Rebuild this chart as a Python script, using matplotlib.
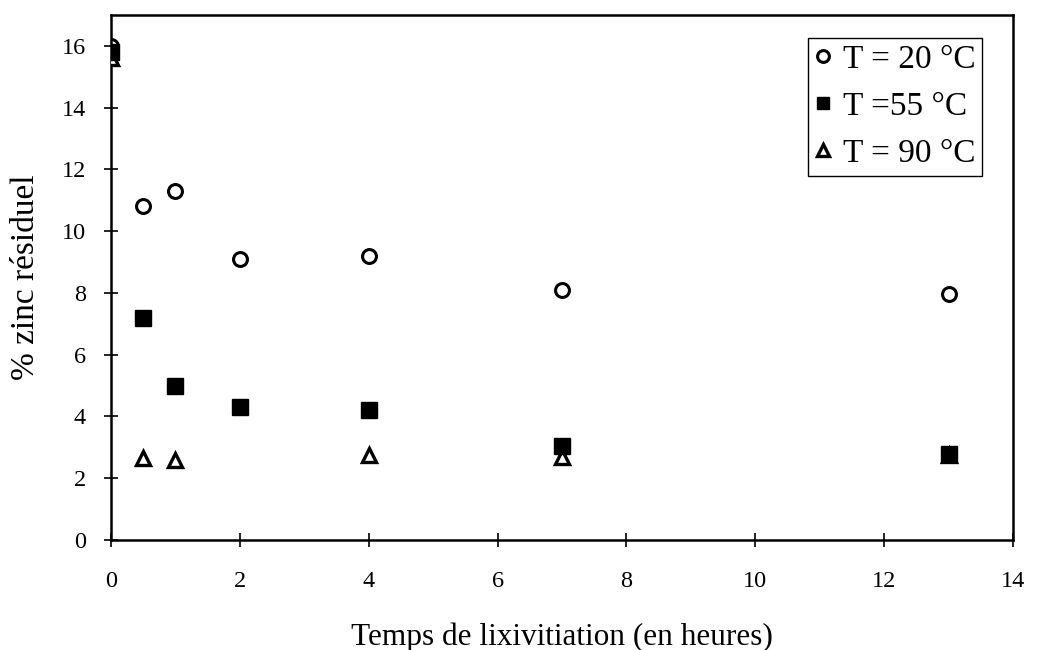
import matplotlib
matplotlib.use("Agg")
import matplotlib.pyplot as plt

plt.rcParams['font.family'] = ['Liberation Serif', 'DejaVu Serif']

# temps de lixiviation (h) et % zinc residuel pour chaque temperature
t_20 = [0, 0.5, 1, 2, 4, 7, 13]
zn_20 = [16.0, 10.8, 11.3, 9.1, 9.2, 8.1, 7.95]

t_55 = [0, 0.5, 1, 2, 4, 7, 13]
zn_55 = [15.8, 7.2, 5.0, 4.3, 4.2, 3.05, 2.8]

t_90 = [0, 0.5, 1, 4, 7, 13]
zn_90 = [15.6, 2.65, 2.6, 2.75, 2.7, 2.75]

labels = ["T = 20 °C", "T =55 °C", "T = 90 °C"]

fig = plt.figure(figsize=(10.49, 6.5), dpi=100)
ax = fig.add_axes([0.1058, 0.1692, 0.8599, 0.8078])

ax.plot(t_90, zn_90, linestyle="none", marker="^", markersize=10,
        markerfacecolor="white", markeredgecolor="black", markeredgewidth=2.4,
        label=labels[2], zorder=3)
ax.plot(t_55, zn_55, linestyle="none", marker="s", markersize=11,
        color="black", label=labels[1], zorder=4)
ax.plot(t_20, zn_20, linestyle="none", marker="o", markersize=10,
        markerfacecolor="white", markeredgecolor="black", markeredgewidth=2.2,
        label=labels[0], zorder=2)

ax.set_xlim(0, 14)
ax.set_ylim(0, 17)
ax.set_xticks(range(0, 15, 2))
ax.set_yticks(range(0, 17, 2))
ax.tick_params(direction="inout", length=10, width=1.2, labelsize=17.5)
ax.tick_params(axis="x", pad=17)
ax.tick_params(axis="y", pad=13)

for s in ax.spines.values():
    s.set_linewidth(1.8)

ax.set_xlabel("Temps de lixivitiation (en heures)", fontsize=22.5, labelpad=22)
ax.set_ylabel("% zinc résiduel", fontsize=24, labelpad=15)

handles, lbls = ax.get_legend_handles_labels()
order = [2, 1, 0]
leg = ax.legend([handles[i] for i in order], [lbls[i] for i in order],
                loc="upper right", bbox_to_anchor=(0.966, 0.957),
                fontsize=24, frameon=True, fancybox=False, framealpha=1,
                edgecolor="black", handlelength=0.5, handletextpad=0.35,
                markerscale=0.85, borderpad=0.2, borderaxespad=0,
                labelspacing=0.5)
leg.get_frame().set_linewidth(1.0)

fig.savefig("out.png", dpi=100)
